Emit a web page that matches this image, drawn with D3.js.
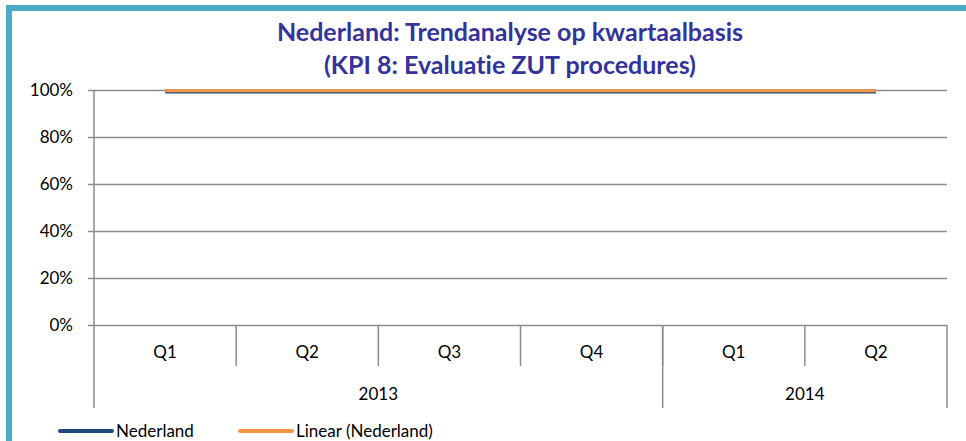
<!DOCTYPE html>
<html>
<head>
<meta charset="utf-8">
<script src="https://cdn.jsdelivr.net/npm/d3@7"></script>
<style>
  body { margin: 0; background: #fff; }
  svg { display: block; font-family: Lato, "Open Sans", sans-serif; font-variant-ligatures: none; }
</style>
</head>
<body>
<div id="chart"></div>
<script>
const quarters = ["Q1", "Q2", "Q3", "Q4", "Q1", "Q2"];
const years = ["2013", "2013", "2013", "2013", "2014", "2014"];
const nederland = [1, 1, 1, 1, 1, 1];
const trend = [1, 1, 1, 1, 1, 1];
const yTicks = [0, 0.2, 0.4, 0.6, 0.8, 1];
const titleLines = ["Nederland: Trendanalyse op kwartaalbasis", "(KPI 8: Evaluatie ZUT procedures)"];
const legendItems = [
  {name: "Nederland", color: "#1f497d"},
  {name: "Linear (Nederland)", color: "#f79646"}
];

const width = 966, height = 441;
const margin = {top: 90, right: 19, bottom: 116, left: 94};

const svg = d3.select("#chart").append("svg")
  .attr("width", width).attr("height", height);

// teal frame
svg.append("path")
  .attr("d", "M9,441 V8 H966")
  .attr("fill", "none")
  .attr("stroke", "#4bacc6")
  .attr("stroke-width", 6);

const idx = d3.range(quarters.length);
const x = d3.scaleBand().domain(idx).range([margin.left, width - margin.right]);
const y = d3.scaleLinear().domain([0, 1]).range([height - margin.bottom, margin.top]);

// title
svg.append("g").selectAll("text").data(titleLines).join("text")
  .attr("x", 510)
  .attr("y", (d, i) => 41 + i * 33)
  .attr("text-anchor", "middle")
  .attr("font-size", 25)
  .attr("font-weight", "bold")
  .attr("fill", "#333399")
  .text(d => d);

// gridlines + y axis
const yAxis = d3.axisLeft(y).tickValues(yTicks)
  .tickFormat(d3.format(".0%"))
  .tickSize(-(width - margin.right - margin.left))
  .tickPadding(21);
const gy = svg.append("g")
  .attr("transform", `translate(${margin.left},0)`)
  .call(yAxis);
gy.select(".domain").remove();
gy.selectAll("line").attr("stroke", "#8c8c8c").attr("stroke-width", 1.5)
  .attr("x1", -6);
gy.selectAll("text").attr("font-size", 17).attr("fill", "#000")
  .attr("font-family", "Lato, 'Open Sans', sans-serif");

// vertical axis line
svg.append("line")
  .attr("x1", margin.left).attr("x2", margin.left)
  .attr("y1", y(1)).attr("y2", 408)
  .attr("stroke", "#8c8c8c").attr("stroke-width", 1.5);

// quarter dividers
const y0 = y(0);
svg.append("g").selectAll("line").data(idx.slice(1)).join("line")
  .attr("x1", d => x(d)).attr("x2", d => x(d))
  .attr("y1", y0).attr("y2", 366)
  .attr("stroke", "#8c8c8c").attr("stroke-width", 1.5);

// year dividers
const yearGroups = d3.groups(idx, d => years[d]);
const yearBounds = yearGroups.map(([yr, arr]) => ({
  yr, start: x(arr[0]), end: x(arr[arr.length - 1]) + x.bandwidth()
}));
svg.append("g").selectAll("line").data(yearBounds).join("line")
  .attr("x1", d => d.end).attr("x2", d => d.end)
  .attr("y1", y0).attr("y2", 408)
  .attr("stroke", "#8c8c8c").attr("stroke-width", 1.5);

// quarter labels
svg.append("g").selectAll("text").data(idx).join("text")
  .attr("x", d => x(d) + x.bandwidth() / 2)
  .attr("y", 358)
  .attr("text-anchor", "middle")
  .attr("font-size", 17)
  .text(d => quarters[d]);

// year labels
svg.append("g").selectAll("text").data(yearBounds).join("text")
  .attr("x", d => (d.start + d.end) / 2)
  .attr("y", 400)
  .attr("text-anchor", "middle")
  .attr("font-size", 17)
  .text(d => d.yr);

// lines
const line = d3.line()
  .x((d, i) => x(i) + x.bandwidth() / 2)
  .y(d => y(d) + 1.5);
svg.append("path").datum(nederland)
  .attr("d", line)
  .attr("fill", "none")
  .attr("stroke", "#1f497d")
  .attr("stroke-width", 4);
svg.append("path").datum(trend)
  .attr("d", d3.line().x((d, i) => x(i) + x.bandwidth() / 2).y(d => y(d) + 0.8))
  .attr("fill", "none")
  .attr("stroke", "#f79646")
  .attr("stroke-width", 3);

// legend
const lg = svg.append("g").selectAll("g").data(legendItems).join("g")
  .attr("transform", (d, i) => `translate(${60 + i * 180},431)`);
lg.append("line")
  .attr("x1", 0).attr("x2", 52)
  .attr("stroke", d => d.color)
  .attr("stroke-width", 4)
  .attr("stroke-linecap", "round");
lg.append("text")
  .attr("x", 56).attr("y", 6)
  .attr("font-size", 17)
  .text(d => d.name);
</script>
</body>
</html>
